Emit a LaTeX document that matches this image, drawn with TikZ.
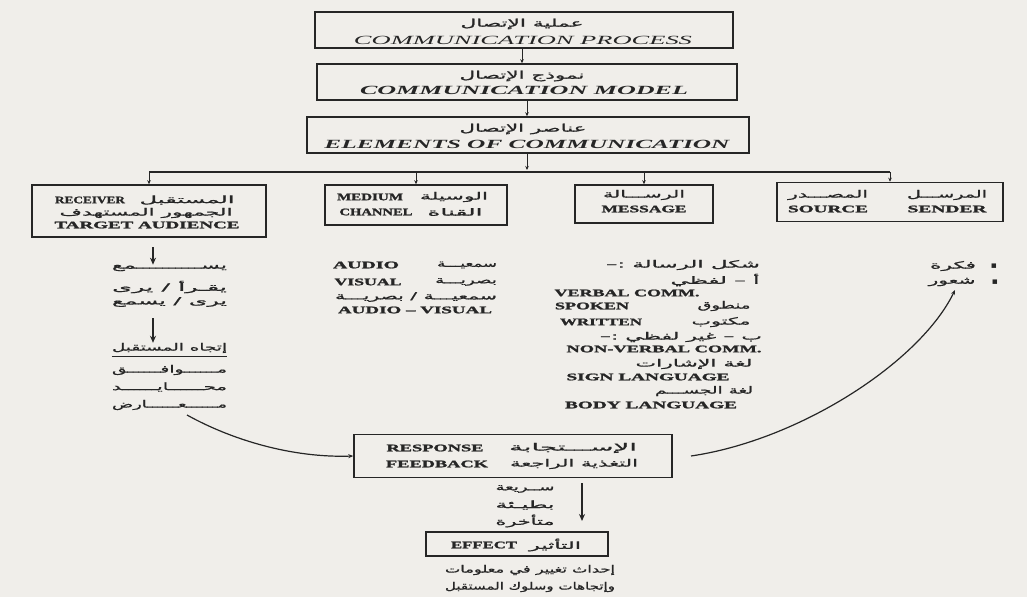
\documentclass[tikz,border=0pt]{standalone}
\usepackage{fontspec}
\usepackage{graphicx}
\usetikzlibrary{arrows.meta}
\setmainfont{Liberation Serif}
\newfontfamily\arabicfont[Script=Arabic,FakeBold=0.8]{DejaVu Sans}
\newfontfamily\enbold[FakeBold=1.5,Ligatures=TeX]{Liberation Serif}
\newfontfamily\symfont{DejaVu Sans}
\TeXXeTstate=1
\definecolor{ink}{HTML}{262626}
\definecolor{bg}{HTML}{F0EEEA}
\newcommand\AR[2]{\resizebox{#1pt}{\height}{\arabicfont #2}}
\newcommand\EN[2]{\resizebox{#1pt}{\height}{#2}}
\tikzset{
  box/.style={draw=ink, line width=1.5pt, inner sep=0pt},
  tx/.style={inner sep=0pt, text=ink},
  ar/.style={tx, font=\fontsize{10}{12}\selectfont},
  arT/.style={tx, font=\fontsize{10.5}{13}\selectfont},
  en/.style={tx, font=\enbold\bfseries\fontsize{10}{12}\selectfont},
  enI/.style={tx, font=\itshape\fontsize{12.5}{14}\selectfont},
  enBI/.style={tx, font=\bfseries\itshape\fontsize{12.5}{14}\selectfont},
  sarr/.style={draw=ink, line width=0.9pt, -{Stealth[length=4pt,width=3.5pt]}},
  barline/.style={draw=ink, line width=1.2pt},
  bigarr/.style={draw=ink, line width=1.6pt, -{Stealth[length=7pt,width=6pt]}},
  curve/.style={draw=ink, line width=1.2pt, -{Stealth[length=5pt,width=4pt]}}
}
\begin{document}
\begin{tikzpicture}[x=1pt,y=-1pt]
\path[fill=bg] (0,0) rectangle (1027,597);
\useasboundingbox (0,0) rectangle (1027,597);

% ---- title boxes
\node[box, minimum width=418pt, minimum height=36pt] (b1) at (524,30) {};
\node[box, minimum width=420pt, minimum height=36pt] (b2) at (527,82) {};
\node[box, minimum width=442pt, minimum height=36pt] (b3) at (528,135) {};
\node[arT] (t1a) at (522,24) {\AR{123}{\beginR عملية الإتصال\endR}};
\node[enI] (t1e) at (523,40) {\EN{338}{COMMUNICATION PROCESS}};
\node[arT] (t2a) at (522,76) {\AR{125}{\beginR نموذج الإتصال\endR}};
\node[enBI] (t2e) at (524,90) {\EN{328}{COMMUNICATION MODEL}};
\node[arT] (t3a) at (523,129) {\AR{127}{\beginR عناصر الإتصال\endR}};
\node[enBI] (t3e) at (527,144) {\EN{405}{ELEMENTS OF COMMUNICATION}};

\draw[sarr] ([xshift=-2pt]b1.south) -- ([xshift=-2pt]b1.south |- b2.north);
\draw[sarr] (b2.south) -- (b2.south |- b3.north);

% ---- element boxes
\node[box, minimum width=234pt, minimum height=52pt] (rcv) at (149,211) {};
\node[box, minimum width=182pt, minimum height=40pt] (med) at (416,205) {};
\node[box, minimum width=138pt, minimum height=38pt] (msg) at (644,204) {};
\node[box, minimum width=226pt, minimum height=39pt] (src) at (890,202) {};

\coordinate (bar) at (527,172);
\draw[sarr] (b3.south -| bar) -- ([yshift=2pt]bar);
\draw[barline] (rcv.north |- bar) -- (src.north |- bar);
\draw[sarr] (rcv.north |- bar) -- (rcv.north);
\draw[sarr] (med.north |- bar) -- (med.north);
\draw[sarr] (msg.north |- bar) -- (msg.north);
\draw[sarr] (src.north |- bar) -- (src.north);

% receiver box text
\node[en] (r1e) at (90,200) {\EN{70}{RECEIVER}};
\node[ar] (r1a) at (187,200) {\AR{95}{\beginR المستقبل\endR}};
\node[ar] (r2a) at (146,213) {\AR{173}{\beginR الجمهور المستهدف\endR}};
\node[en] (r3e) at (147,225) {\EN{185}{TARGET AUDIENCE}};
% medium box text
\node[en] (m1e) at (370,197) {\EN{66}{MEDIUM}};
\node[ar] (m1a) at (454,197) {\AR{68}{\beginR الوسيلة\endR}};
\node[en] (m2e) at (376,212) {\EN{73}{CHANNEL}};
\node[ar] (m2a) at (455,212) {\AR{55}{\beginR القناة\endR}};
% message box text
\node[ar] (g1a) at (644,195) {\AR{82}{\beginR الرســـالة\endR}};
\node[en] (g1e) at (644,209) {\EN{85}{MESSAGE}};
% source box text
\node[ar] (s0a) at (828,195) {\AR{80}{\beginR المصـــدر\endR}};
\node[ar] (s0b) at (947,195) {\AR{80}{\beginR المرســـل\endR}};
\node[en] (s0c) at (828,209) {\EN{80}{SOURCE}};
\node[en] (s0d) at (947,209) {\EN{79}{SENDER}};

% ---- receiver column
\node[ar] (c1) at (169.5,268) {\AR{115}{\beginR يســــــــــمع\endR}};
\node[ar] (c2) at (169.5,287) {\AR{115}{\beginR يقـرأ / يرى\endR}};
\node[ar] (c3) at (169.5,302) {\AR{115}{\beginR يرى / يسمع\endR}};
\node[ar] (c4) at (169.5,348) {\AR{115}{\beginR إتجاه المستقبل\endR}};
\node[ar] (c5) at (169.5,370) {\AR{115}{\beginR مــــــوافــــــق\endR}};
\node[ar] (c6) at (169.5,387) {\AR{115}{\beginR محــــــايــــــد\endR}};
\node[ar] (c7) at (169.5,405) {\AR{115}{\beginR مــــــعــــــارض\endR}};
\draw[ink, line width=1pt] ([yshift=-3pt]c4.south west) -- ([yshift=-3pt]c4.south east);
\coordinate (ra1) at (153,247);
\coordinate (ra2) at (153,318);
\draw[bigarr] (ra1) -- (ra1 |- c1.north);
\draw[bigarr] (ra2) -- (ra2 |- c4.north);

% ---- medium column
\node[en] (d1e) at (366,265) {\EN{66}{AUDIO}};
\node[ar] (d1a) at (467,265) {\AR{60}{\beginR سمعيـــة\endR}};
\node[en] (d2e) at (368,282) {\EN{67}{VISUAL}};
\node[ar] (d2a) at (466,282) {\AR{62}{\beginR بصريـــة\endR}};
\node[ar] (d3a) at (416,297) {\AR{162}{\beginR سمعيـــة / بصريـــة\endR}};
\node[en] (d4e) at (415,310) {\EN{154}{AUDIO – VISUAL}};

% ---- message column
\node[ar] (e1) at (683,265) {\AR{154}{\beginR شكل الرسالة :–\endR}};
\node[ar] (e2) at (715,280) {\AR{89}{\beginR أ – لفظي\endR}};
\node[en] (e3) at (627,293) {\EN{145}{VERBAL COMM.}};
\node[en] (e4e) at (592,306) {\EN{74}{SPOKEN}};
\node[ar] (e4a) at (724,306) {\AR{53}{\beginR منطوق\endR}};
\node[en] (e5e) at (601,322) {\EN{82}{WRITTEN}};
\node[ar] (e5a) at (721,322) {\AR{59}{\beginR مكتوب\endR}};
\node[ar] (e6) at (681,337) {\AR{162}{\beginR ب – غير لفظي :–\endR}};
\node[en] (e7) at (664,349) {\EN{195}{NON-VERBAL COMM.}};
\node[ar] (e8) at (694,364) {\AR{117}{\beginR لغة الإشارات\endR}};
\node[en] (e9) at (648,377) {\EN{163}{SIGN LANGUAGE}};
\node[ar] (e10) at (704,391) {\AR{98}{\beginR لغة الجســـم\endR}};
\node[en] (e11) at (651,405) {\EN{172}{BODY LANGUAGE}};

% ---- source column
\node[tx, font=\symfont\fontsize{9}{10}\selectfont] (s1b) at (994,266) {▪};
\node[ar] (s1a) at (953,266) {\AR{46}{\beginR فكرة\endR}};
\node[tx, font=\symfont\fontsize{9}{10}\selectfont] (s2b) at (995,282) {▪};
\node[ar] (s2a) at (952,282) {\AR{47}{\beginR شعور\endR}};

% ---- response box
\node[box, minimum width=318pt, minimum height=43pt] (resp) at (513,456) {};
\node[en] (p1e) at (435,448) {\EN{97}{RESPONSE}};
\node[ar] (p1a) at (573,448) {\AR{128}{\beginR الإســـتجابة\endR}};
\node[en] (p2e) at (437,464) {\EN{102}{FEEDBACK}};
\node[ar] (p2a) at (574,464) {\AR{128}{\beginR التغذية الراجعة\endR}};

% curves
\coordinate (lc) at (187,415);
\draw[curve] (lc) .. controls (232,440) and (292,458) .. (resp.west);
\coordinate (rc) at (691,456);
\coordinate (rcEnd) at (955,290);
\draw[curve] (rc) .. controls (800,440) and (920,362) .. (rcEnd);

% ---- speed + effect
\node[ar] (q1) at (525,489) {\AR{59}{\beginR ســريعة\endR}};
\node[ar] (q2) at (525,505) {\AR{59}{\beginR بطيـئة\endR}};
\node[ar] (q3) at (525,521) {\AR{59}{\beginR متأخرة\endR}};
\coordinate (pa) at (582,483);
\coordinate (pb) at (582,521);
\draw[bigarr] (pa) -- (pb);

\node[box, minimum width=182pt, minimum height=24pt] (eff) at (517,544) {};
\node[en] (f1e) at (484,545) {\EN{66}{EFFECT}};
\node[ar] (f1a) at (555,545) {\AR{52}{\beginR التأثير\endR}};
\node[ar] (h1) at (530,570) {\AR{170}{\beginR إحداث تغيير في معلومات\endR}};
\node[ar] (h2) at (530,587) {\AR{170}{\beginR وإتجاهات وسلوك المستقبل\endR}};
\end{tikzpicture}
\end{document}
